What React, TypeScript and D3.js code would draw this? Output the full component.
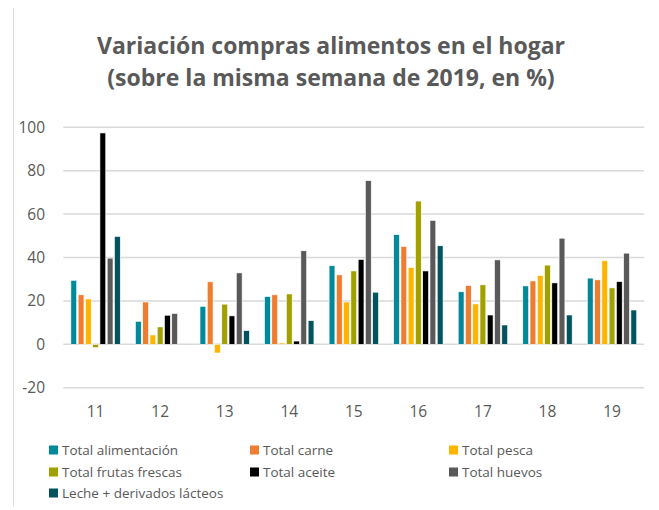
import { useEffect, useRef } from 'react'
import * as d3 from 'd3'

const weeks = ['11', '12', '13', '14', '15', '16', '17', '18', '19']
const seriesNames = [
  'Total alimentación',
  'Total carne',
  'Total pesca',
  'Total frutas frescas',
  'Total aceite',
  'Total huevos',
  'Leche + derivados lácteos',
]
const seriesColors = ['#00899A', '#ED7D31', '#FFB400', '#A0A000', '#000000', '#595959', '#03535E']

const alimentacion = [29.5, 10.6, 17.5, 22, 36.2, 50.5, 24.2, 26.9, 30.5]
const carne = [22.8, 19.5, 28.8, 22.8, 32, 45.1, 27.1, 29.2, 29.7]
const pesca = [20.9, 4.3, -4, 0.6, 19.5, 35.4, 18.6, 31.7, 38.5]
const frutas = [-1.5, 8, 18.5, 23.2, 33.8, 66, 27.4, 36.5, 26]
const aceite = [97.4, 13.4, 13.1, 1.5, 39.1, 33.8, 13.5, 28.3, 28.9]
const huevos = [39.7, 14.2, 32.9, 43.1, 75.4, 57.1, 38.9, 48.9, 42]
const leche = [49.7, 0, 6.3, 10.9, 24, 45.4, 8.9, 13.5, 15.8]

const yTicks = [-20, 0, 20, 40, 60, 80, 100]

export default function App() {
  const svgRef = useRef<SVGSVGElement>(null)

  useEffect(() => {
    if (!svgRef.current) return
    const svg = d3.select(svgRef.current)
    svg.selectAll('*').remove()

    const width = 659
    const height = 510
    const font = 'Open Sans, sans-serif'
    const textColor = '#595959'

    svg.attr('width', width).attr('height', height)

    // chart border
    svg.append('rect')
      .attr('x', 13.5)
      .attr('y', 4.5)
      .attr('width', 643)
      .attr('height', 520)
      .attr('fill', 'white')
      .attr('stroke', '#D9D9D9')
      .attr('stroke-width', 1)

    svg.append('text')
      .attr('x', 331)
      .attr('y', 54)
      .attr('text-anchor', 'middle')
      .attr('fill', textColor)
      .style('font-family', font)
      .style('font-weight', 'bold')
      .style('font-size', '23px')
      .text('Variación compras alimentos en el hogar')

    svg.append('text')
      .attr('x', 331)
      .attr('y', 86)
      .attr('text-anchor', 'middle')
      .attr('fill', textColor)
      .style('font-family', font)
      .style('font-weight', 'bold')
      .style('font-size', '23px')
      .text('(sobre la misma semana de 2019, en %)')

    const left = 63.3
    const right = 644.3

    const x0 = d3.scaleBand<string>()
      .domain(weeks)
      .range([left, right])
      .paddingInner(0.19)
      .paddingOuter(0.095)

    const x1 = d3.scaleBand<number>()
      .domain(d3.range(seriesNames.length))
      .range([0, x0.bandwidth()])
      .padding(0.2)

    const y = d3.scaleLinear().domain([-20, 100]).range([387.7, 127.3])

    const grid = svg.append('g')
    grid.selectAll('line')
      .data(yTicks)
      .join('line')
      .attr('x1', left)
      .attr('x2', right)
      .attr('y1', d => y(d))
      .attr('y2', d => y(d))
      .attr('stroke', '#D9D9D9')
      .attr('stroke-width', 1.5)

    grid.selectAll('text')
      .data(yTicks)
      .join('text')
      .attr('x', 45)
      .attr('y', d => y(d))
      .attr('dy', '0.35em')
      .attr('text-anchor', 'end')
      .attr('fill', textColor)
      .style('font-family', font)
      .style('font-size', '15.5px')
      .text(d => String(d))

    const allSeries = [alimentacion, carne, pesca, frutas, aceite, huevos, leche]

    const groups = svg.append('g')
      .selectAll('g')
      .data(weeks)
      .join('g')
      .attr('transform', d => `translate(${x0(d)},0)`)

    groups.selectAll('rect')
      .data((_, wi) => allSeries.map((s, si) => ({ si, v: s[wi] })))
      .join('rect')
      .attr('x', d => x1(d.si)!)
      .attr('width', x1.bandwidth())
      .attr('y', d => y(Math.max(0, d.v)))
      .attr('height', d => Math.abs(y(d.v) - y(0)))
      .attr('fill', d => seriesColors[d.si])
      .attr('stroke', 'white')
      .attr('stroke-width', 0.6)

    svg.append('g')
      .selectAll('text')
      .data(weeks)
      .join('text')
      .attr('x', d => x0(d)! + x0.bandwidth() / 2)
      .attr('y', 412)
      .attr('dy', '0.35em')
      .attr('text-anchor', 'middle')
      .attr('fill', textColor)
      .style('font-family', font)
      .style('font-size', '15.5px')
      .text(d => d)

    // legend
    const legendCols = [49, 250, 449]
    const legendRows = [450, 472, 493]
    const legend = svg.append('g')
      .selectAll('g')
      .data(seriesNames)
      .join('g')
      .attr('transform', (_, i) => `translate(${legendCols[i % 3]},${legendRows[Math.floor(i / 3)]})`)

    legend.append('rect')
      .attr('x', 0)
      .attr('y', -4.5)
      .attr('width', 9)
      .attr('height', 9)
      .attr('fill', (_, i) => seriesColors[i])

    legend.append('text')
      .attr('x', 13)
      .attr('y', 0)
      .attr('dy', '0.35em')
      .attr('fill', textColor)
      .style('font-family', font)
      .style('font-size', '13.5px')
      .text(d => d)
  }, [])

  return (
    <div style={{ margin: -8 }}>
      <svg ref={svgRef}></svg>
    </div>
  )
}
